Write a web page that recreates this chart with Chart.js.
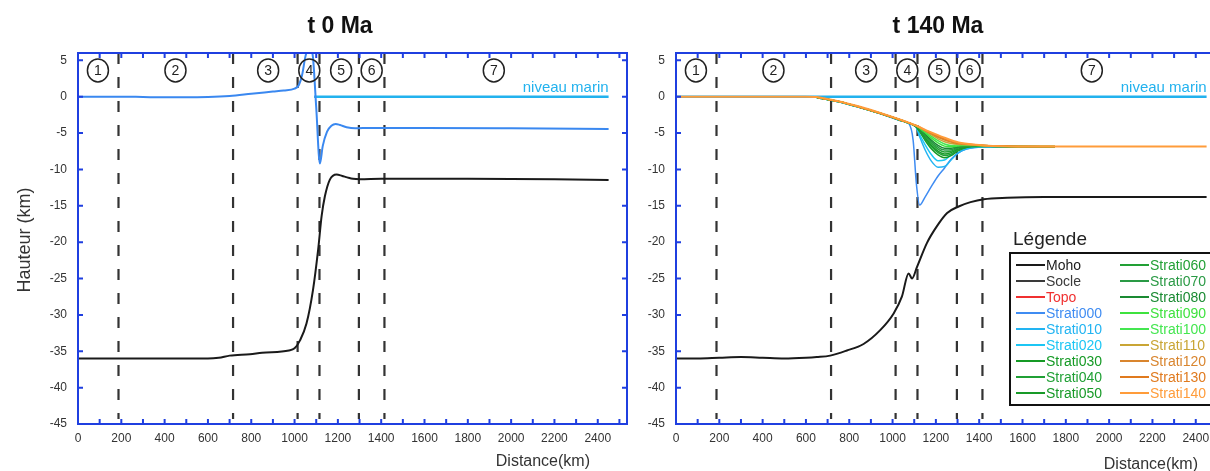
<!DOCTYPE html>
<html>
<head>
<meta charset="utf-8">
<script src="https://cdn.jsdelivr.net/npm/chart.js@4.4.1/dist/chart.umd.min.js"></script>
<style>
html, body { margin: 0; padding: 0; background: #fff; overflow: hidden; width: 1210px; height: 471px; }
canvas { position: absolute; top: 0; }
#left { left: 0; }
#right { left: 598px; }
</style>
</head>
<body>
<canvas id="left" width="640" height="471"></canvas>
<canvas id="right" width="640" height="471"></canvas>
<script>
// zone boundaries (dashed lines) and circled zone numbers, km
const zoneBounds = [187, 716, 1014, 1115, 1297, 1415];
const zoneCenters = [92, 450, 878, 1068, 1215, 1356, 1920];
const zoneNames = ['1', '2', '3', '4', '5', '6', '7'];

// sea level (left panel: only visible seaward of the topography)
const seaLeftX = [1090, 2450];
const seaRightX = [0, 2450];
const seaY = [0, 0];

// t 0 Ma
const topo0X = [0, 100, 200, 300, 400, 500, 600, 700, 800, 900, 950, 1000, 1020, 1035, 1050, 1062, 1075, 1085, 1100, 1117, 1130, 1150, 1170, 1190, 1210, 1240, 1280, 1350, 1600, 2000, 2450];
const topo0Y = [0, 0, 0, -0.05, -0.1, -0.1, -0.05, 0.1, 0.4, 0.7, 0.85, 1.1, 1.6, 3, 5.5, 6.5, 6.5, 5.4, -1.5, -9.2, -6.8, -4.8, -4.0, -3.75, -3.9, -4.2, -4.35, -4.3, -4.3, -4.35, -4.45];
const moho0X = [0, 200, 400, 600, 650, 700, 794, 850, 974, 1000, 1025, 1055, 1085, 1109, 1125, 1140, 1163, 1194, 1220, 1243, 1270, 1302, 1400, 1800, 2200, 2450];
const moho0Y = [-36, -36, -36, -36, -35.9, -35.6, -35.4, -35.2, -34.9, -34.6, -33.5, -31.2, -26.6, -21, -16.4, -13.7, -11.4, -10.7, -10.9, -11.1, -11.3, -11.35, -11.3, -11.3, -11.35, -11.45];

// t 140 Ma
const moho140X = [0, 100, 200, 300, 400, 500, 600, 650, 712, 789, 866, 943, 1005, 1043, 1074, 1090, 1113, 1159, 1205, 1252, 1305, 1360, 1421, 1529, 1700, 2000, 2450];
const moho140Y = [-36, -36, -35.9, -35.8, -35.9, -36, -35.9, -35.8, -35.6, -34.9, -34.0, -32.1, -29.8, -27.5, -24.3, -25.0, -23.4, -20.1, -17.8, -16.0, -15.1, -14.5, -14.1, -13.9, -13.8, -13.8, -13.8];
const strati140X = [0, 300, 600, 650, 712, 800, 850, 950, 1050, 1110, 1170, 1236, 1305, 1360, 1421, 1500, 1575, 1700, 2000, 2450];
const strati140Y = [0, 0, 0, -0.05, -0.4, -1.0, -1.4, -2.3, -3.3, -4.0, -4.8, -5.6, -6.3, -6.55, -6.7, -6.82, -6.85, -6.85, -6.85, -6.85];

const stratiX = [650, 750, 850, 950, 1050, 1075, 1095, 1110, 1125, 1150, 1180, 1210, 1240, 1270, 1300, 1340, 1400, 1480, 1580, 1750];
const strati000 = [-0.1, -0.7, -1.5, -2.4, -3.4, -3.7, -6.0, -12.0, -14.9, -13.8, -12.3, -10.9, -9.8, -8.6, -7.8, -7.2, -6.95, -6.9, -6.9, -6.9];
const strati010 = [-0.15, -0.7, -1.5, -2.4, -3.4, -3.65, -3.9, -4.3, -5.5, -7.3, -8.9, -9.7, -9.6, -8.7, -7.8, -7.2, -6.95, -6.9, -6.9, -6.9];
const strati020 = [-0.15, -0.7, -1.5, -2.4, -3.4, -3.65, -3.9, -4.2, -5.2, -6.6, -8.0, -8.8, -8.7, -8.0, -7.4, -7.05, -6.9, -6.9, -6.9, -6.9];
const strati030 = [-0.15, -0.7, -1.5, -2.4, -3.4, -3.65, -3.9, -4.2, -4.8, -6.0, -7.2, -8.0, -8.4, -8.1, -7.5, -7.0, -6.85, -6.85, -6.9, -6.9];
const strati040 = [-0.1, -0.65, -1.45, -2.35, -3.35, -3.6, -3.85, -4.1, -4.7, -5.8, -6.9, -7.7, -8.1, -7.9, -7.4, -6.95, -6.8, -6.85, -6.9, -6.9];
const strati050 = [-0.1, -0.65, -1.45, -2.35, -3.35, -3.6, -3.85, -4.1, -4.6, -5.6, -6.7, -7.5, -7.9, -7.7, -7.25, -6.9, -6.8, -6.85, -6.9, -6.9];
const strati060 = [-0.1, -0.65, -1.45, -2.35, -3.35, -3.6, -3.85, -4.1, -4.5, -5.4, -6.4, -7.2, -7.6, -7.5, -7.1, -6.85, -6.75, -6.8, -6.85, -6.9];
const strati070 = [-0.1, -0.65, -1.45, -2.35, -3.35, -3.6, -3.85, -4.05, -4.45, -5.25, -6.2, -6.95, -7.35, -7.3, -7.0, -6.8, -6.75, -6.8, -6.85, -6.9];
const strati080 = [-0.1, -0.65, -1.45, -2.35, -3.35, -3.6, -3.85, -4.05, -4.4, -5.1, -6.0, -6.7, -7.1, -7.1, -6.9, -6.75, -6.7, -6.8, -6.85, -6.9];
const strati090 = [-0.1, -0.65, -1.45, -2.35, -3.35, -3.6, -3.85, -4.0, -4.35, -4.95, -5.7, -6.35, -6.8, -6.9, -6.8, -6.7, -6.7, -6.8, -6.85, -6.85];
const strati100 = [-0.1, -0.65, -1.45, -2.35, -3.35, -3.6, -3.85, -4.0, -4.3, -4.8, -5.45, -6.05, -6.5, -6.7, -6.65, -6.65, -6.7, -6.8, -6.85, -6.85];
const strati110 = [-0.1, -0.65, -1.45, -2.35, -3.35, -3.6, -3.85, -4.0, -4.25, -4.7, -5.25, -5.8, -6.2, -6.45, -6.55, -6.6, -6.7, -6.8, -6.85, -6.85];
const strati120 = [-0.1, -0.65, -1.45, -2.35, -3.35, -3.6, -3.85, -4.0, -4.25, -4.65, -5.1, -5.6, -5.95, -6.25, -6.45, -6.55, -6.68, -6.8, -6.85, -6.85];
const strati130 = [-0.1, -0.65, -1.45, -2.35, -3.35, -3.6, -3.85, -4.0, -4.2, -4.6, -5.0, -5.45, -5.8, -6.1, -6.35, -6.5, -6.66, -6.8, -6.85, -6.85];

// legend
const legendNames = ['Moho', 'Socle', 'Topo', 'Strati000', 'Strati010', 'Strati020', 'Strati030', 'Strati040', 'Strati050',
  'Strati060', 'Strati070', 'Strati080', 'Strati090', 'Strati100', 'Strati110', 'Strati120', 'Strati130', 'Strati140'];
const legendColors = ['#1a1a1a', '#3a3a3a', '#f03030', '#3f8cf2', '#22b4f2', '#1cc6f4', '#159a25', '#20a035', '#189a28',
  '#22a035', '#2a9a45', '#1a8a32', '#3ee23e', '#44e650', '#c9a535', '#d9852e', '#e07a1e', '#ff9c3a'];

const xTicks = { min: 0, max: 2535, step: 100, labelStep: 200, lastLabel: 2400 };
const yTicks = { min: -45, max: 6, step: 5 };

const axisBlue = '#1f3fe0';
const seaColor = '#22b2ee';
const fontFamily = '"Liberation Sans", Arial, sans-serif';

function pts(xs, ys) {
  return xs.map((x, i) => ({ x: x, y: ys[i] }));
}

function curve(label, xs, ys, color, width) {
  return {
    label: label,
    data: pts(xs, ys),
    borderColor: color,
    borderWidth: width,
    pointRadius: 0,
    cubicInterpolationMode: 'monotone',
    fill: false
  };
}

function dashedLines() {
  return zoneBounds.map(b => ({
    label: 'zone ' + b,
    data: [{ x: b, y: 6 }, { x: b, y: -44.3 }],
    borderColor: '#333',
    borderWidth: 2.2,
    borderDash: [11, 13],
    pointRadius: 0
  }));
}

// frame, inward ticks, zone circles, labels, titles, legend
const deco = {
  id: 'deco',
  afterDraw(chart, args, o) {
    const { ctx, chartArea: a, scales } = chart;
    const x = scales.x, y = scales.y;
    ctx.save();

    ctx.strokeStyle = axisBlue;
    ctx.lineWidth = 2;
    ctx.strokeRect(a.left, a.top, a.right - a.left, a.bottom - a.top);
    ctx.beginPath();
    x.ticks.forEach(t => {
      if (t.value % xTicks.step !== 0) return;
      const px = x.getPixelForValue(t.value);
      ctx.moveTo(px, a.bottom); ctx.lineTo(px, a.bottom - 5);
      ctx.moveTo(px, a.top); ctx.lineTo(px, a.top + 5);
    });
    y.ticks.forEach(t => {
      const py = y.getPixelForValue(t.value);
      ctx.moveTo(a.left, py); ctx.lineTo(a.left + 5, py);
      ctx.moveTo(a.right, py); ctx.lineTo(a.right - 5, py);
    });
    ctx.stroke();

    // circled zone numbers
    const cy = y.getPixelForValue(3.6);
    ctx.lineWidth = 1.5;
    ctx.strokeStyle = '#222';
    ctx.fillStyle = '#222';
    ctx.font = '14px ' + fontFamily;
    ctx.textAlign = 'center';
    ctx.textBaseline = 'middle';
    zoneCenters.forEach((c, i) => {
      const cx = x.getPixelForValue(c);
      ctx.beginPath();
      ctx.ellipse(cx, cy, 10.5, 11.5, 0, 0, Math.PI * 2);
      ctx.stroke();
      ctx.fillText(zoneNames[i], cx, cy + 1);
    });

    // sea level label
    ctx.fillStyle = seaColor;
    ctx.font = '15px ' + fontFamily;
    ctx.textAlign = 'right';
    ctx.fillText('niveau marin', x.getPixelForValue(2450), y.getPixelForValue(1.2));

    // panel title
    ctx.fillStyle = '#111';
    ctx.font = 'bold 23px ' + fontFamily;
    ctx.textAlign = 'center';
    ctx.fillText(o.title, o.titleX, 27);

    // axis titles
    ctx.fillStyle = '#333';
    ctx.font = '16px ' + fontFamily;
    ctx.textAlign = 'right';
    ctx.fillText('Distance(km)', o.xTitleRight, o.xTitleY);
    if (o.yTitle) {
      ctx.save();
      ctx.translate(25, 240);
      ctx.rotate(-Math.PI / 2);
      ctx.textAlign = 'center';
      ctx.font = '18px ' + fontFamily;
      ctx.fillText(o.yTitle, 0, 0);
      ctx.restore();
    }

    // legend box
    if (o.legend) {
      const L = o.legend;
      ctx.fillStyle = '#222';
      ctx.font = '19px ' + fontFamily;
      ctx.textAlign = 'left';
      ctx.fillText('Légende', L.left + 3, L.top - 13);
      ctx.fillStyle = '#fff';
      ctx.fillRect(L.left, L.top, L.width, L.height);
      ctx.strokeStyle = '#111';
      ctx.lineWidth = 2;
      ctx.strokeRect(L.left, L.top, L.width, L.height);
      ctx.font = '14px ' + fontFamily;
      legendNames.forEach((name, i) => {
        const col = i < 9 ? 0 : 1;
        const row = i % 9;
        const lx = L.left + 6 + col * 104;
        const ly = L.top + 12 + row * 16;
        ctx.strokeStyle = legendColors[i];
        ctx.lineWidth = 2;
        ctx.beginPath();
        ctx.moveTo(lx, ly); ctx.lineTo(lx + 29, ly);
        ctx.stroke();
        ctx.fillStyle = legendColors[i];
        ctx.fillText(name, lx + 30, ly + 1);
      });
    }
    ctx.restore();
  }
};

function baseOptions(decoOpts) {
  return {
    responsive: false,
    animation: false,
    layout: { padding: { top: 53, right: 13, left: 0, bottom: 0 } },
    plugins: { legend: { display: false }, tooltip: { enabled: false }, deco: decoOpts },
    scales: {
      x: {
        type: 'linear',
        min: xTicks.min,
        max: xTicks.max,
        grid: { display: false, drawTicks: false },
        border: { display: false },
        afterFit: s => { s.height = 47; },
        ticks: {
          stepSize: xTicks.step,
          includeBounds: false,
          autoSkip: false,
          maxRotation: 0,
          padding: 7,
          color: '#333',
          font: { size: 12, family: fontFamily },
          callback: v => (v % xTicks.labelStep === 0 && v <= xTicks.lastLabel) ? v : ''
        }
      },
      y: {
        min: yTicks.min,
        max: yTicks.max,
        grid: { display: false, drawTicks: false },
        border: { display: false },
        afterFit: s => { s.width = 78; },
        ticks: {
          stepSize: yTicks.step,
          includeBounds: false,
          padding: 11,
          color: '#333',
          font: { size: 12, family: fontFamily },
          callback: v => v
        }
      }
    }
  };
}

new Chart(document.getElementById('left').getContext('2d'), {
  type: 'line',
  data: {
    datasets: [
      curve('Topo', topo0X, topo0Y, '#3a88f0', 2),
      curve('Moho', moho0X, moho0Y, '#1a1a1a', 2),
      curve('niveau marin', seaLeftX, seaY, seaColor, 2.5)
    ].concat(dashedLines())
  },
  options: baseOptions({ title: 't 0 Ma', titleX: 340, xTitleRight: 590, xTitleY: 462, yTitle: 'Hauteur (km)' }),
  plugins: [deco]
});

const stratiSeries = [strati000, strati010, strati020, strati030, strati040, strati050, strati060,
  strati070, strati080, strati090, strati100, strati110, strati120, strati130];
const rightDatasets = [curve('Strati140', strati140X, strati140Y, legendColors[17], 2)];
for (let i = stratiSeries.length - 1; i >= 0; i--) {
  rightDatasets.push(curve(legendNames[3 + i], stratiX, stratiSeries[i], legendColors[3 + i], 1.5));
}
rightDatasets.push(curve('Moho', moho140X, moho140Y, '#1a1a1a', 2));
rightDatasets.push(curve('niveau marin', seaRightX, seaY, seaColor, 2.5));

new Chart(document.getElementById('right').getContext('2d'), {
  type: 'line',
  data: { datasets: rightDatasets.concat(dashedLines()) },
  options: baseOptions({
    title: 't 140 Ma', titleX: 340, xTitleRight: 600, xTitleY: 465,
    legend: { left: 412, top: 253, width: 215, height: 152 }
  }),
  plugins: [deco]
});
</script>
</body>
</html>
